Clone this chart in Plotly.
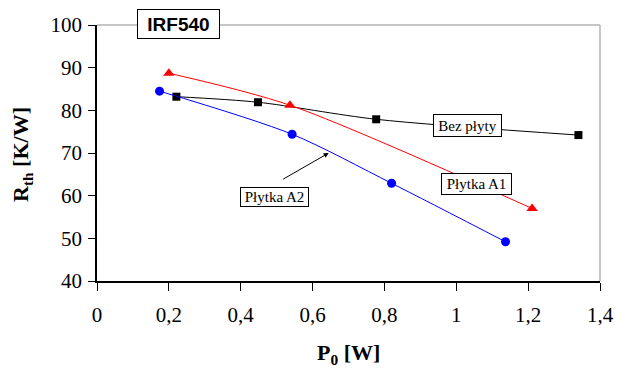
import plotly.graph_objects as go

# Data
a2_x = [0.174, 0.543, 0.820, 1.137]
a2_y = [84.5, 74.4, 62.9, 49.2]
a1_x = [0.200, 0.537, 1.211]
a1_y = [88.7, 81.2, 57.0]
bez_x = [0.221, 0.448, 0.777, 1.340]
bez_y = [83.2, 81.9, 77.9, 74.2]

x_ticks = [0, 0.2, 0.4, 0.6, 0.8, 1.0, 1.2, 1.4]
x_tick_labels = ["0", "0,2", "0,4", "0,6", "0,8", "1", "1,2", "1,4"]
y_ticks = [40, 50, 60, 70, 80, 90, 100]

serif = "Liberation Serif"

fig = go.Figure()
fig.add_trace(go.Scatter(x=bez_x, y=bez_y, mode="lines+markers", name="Bez płyty",
                         line=dict(color="black", width=1, shape="spline", smoothing=0.8),
                         marker=dict(symbol="square", size=8, color="black")))
fig.add_trace(go.Scatter(x=a1_x, y=a1_y, mode="lines+markers", name="Płytka A1",
                         line=dict(color="red", width=1, shape="spline", smoothing=0.8),
                         marker=dict(symbol="triangle-up", size=10, color="red")))
fig.add_trace(go.Scatter(x=a2_x, y=a2_y, mode="lines+markers", name="Płytka A2",
                         line=dict(color="blue", width=1, shape="spline", smoothing=0.8),
                         marker=dict(symbol="circle", size=9, color="blue")))

label_font = dict(family=serif, size=15, color="black")

fig.update_layout(
    width=617, height=369,
    margin=dict(l=97, r=17, t=25, b=88, autoexpand=False),
    paper_bgcolor="white", plot_bgcolor="white",
    showlegend=False,
    font=dict(family=serif, size=21, color="black"),
    xaxis=dict(range=[0, 1.4], tickvals=x_ticks, ticktext=x_tick_labels, automargin=False,
               showgrid=False, zeroline=False, showline=True, linecolor="black", linewidth=1.5,
               ticks="outside", ticklen=8, tickcolor="black", tickwidth=1,
               ticklabelstandoff=6,
               tickfont=dict(family=serif, size=21)),
    yaxis=dict(range=[40, 100], tickvals=y_ticks, automargin=False,
               showgrid=False, zeroline=False, showline=True, linecolor="black", linewidth=1.5,
               ticks="outside", ticklen=7, tickcolor="black", tickwidth=1,
               ticklabelstandoff=2,
               tickfont=dict(family=serif, size=21)),
    shapes=[
        dict(type="line", xref="paper", yref="paper", x0=0, x1=1, y0=1, y1=1,
             line=dict(color="#b3b3b3", width=1.5)),
        dict(type="line", xref="paper", yref="paper", x0=1, x1=1, y0=0, y1=1,
             line=dict(color="#b3b3b3", width=1.5)),
    ],
    annotations=[
        dict(text="<b>IRF540</b>", xref="paper", yref="paper", x=(178.5-97)/503, y=1,
             xanchor="center", yanchor="middle", yshift=1,
             showarrow=False, font=dict(family="Liberation Sans", size=19, color="black"),
             width=79, height=26, bgcolor="white", bordercolor="black", borderwidth=1, borderpad=1),
        dict(text="Bez płyty", x=(467.5-97.3)/359.3, y=100-(125.5-25)/4.267, showarrow=False,
             xanchor="center", yanchor="middle", width=65, height=19,
             font=label_font, bgcolor="white", bordercolor="black", borderwidth=1, borderpad=1),
        dict(text="Płytka A1", x=(476.5-97.3)/359.3, y=100-(184-25)/4.267, showarrow=False,
             xanchor="center", yanchor="middle", width=67, height=18,
             font=label_font, bgcolor="white", bordercolor="black", borderwidth=1, borderpad=1),
        dict(text="Płytka A2", x=(274.5-97.3)/359.3, y=100-(197-25)/4.267, showarrow=False,
             xanchor="center", yanchor="middle", width=65, height=16,
             font=label_font, bgcolor="white", bordercolor="black", borderwidth=1, borderpad=1),
        dict(text="", x=(329-97.3)/359.3, y=100-(153-25)/4.267,
             ax=(282-97.3)/359.3, ay=100-(180-25)/4.267, axref="x", ayref="y",
             showarrow=True, arrowhead=2, arrowsize=1, arrowwidth=1, arrowcolor="black"),
        dict(text="<b>R<sub>th</sub> [K/W]</b>", xref="paper", yref="paper", x=0, y=0.5,
             xanchor="center", yanchor="middle", yshift=-2,
             xshift=-75, textangle=-90, showarrow=False, font=dict(family=serif, size=22)),
        dict(text="<b>P<sub>0</sub> [W]</b>", xref="paper", yref="paper", x=0.5, y=0,
             xanchor="center", yanchor="middle",
             yshift=-73, showarrow=False, font=dict(family=serif, size=22)),
    ],
)

fig.write_html("out.html", config={"displayModeBar": False},
               post_script="document.body.style.margin='0';document.body.style.overflow='hidden';")
